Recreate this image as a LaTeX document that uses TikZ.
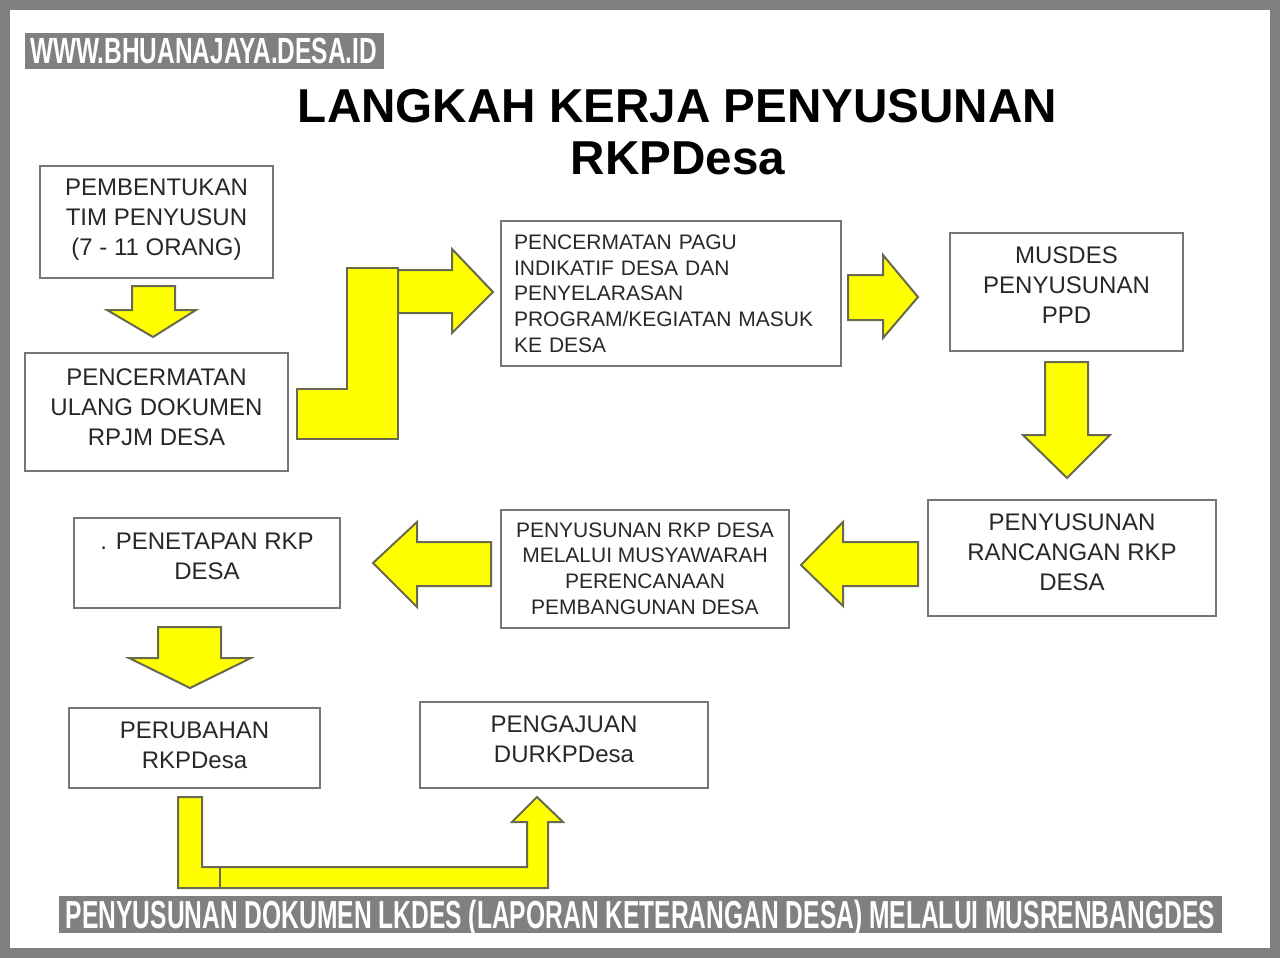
\documentclass[tikz,border=0pt]{standalone}
\usepackage{fontspec}
\setmainfont{Liberation Sans}
\usepackage{graphicx}
\definecolor{framegray}{RGB}{128,128,128}
\definecolor{ylw}{RGB}{255,255,0}
\definecolor{yedge}{RGB}{105,105,80}
\definecolor{bedge}{RGB}{118,118,118}
\definecolor{txt}{RGB}{40,40,40}
\tikzset{
  boxbase/.style={draw=bedge, line width=1pt, fill=white, text=txt, align=center, inner sep=0pt},
  stepbox/.style={boxbase, text depth=5pt, font=\fontsize{12}{15}\selectfont},
  smallbox/.style={boxbase, font=\fontsize{10.5}{12.85}\selectfont},
  blockarrow/.style={fill=ylw, draw=yedge, line width=1pt, line join=miter},
  banner/.style={fill=framegray, inner sep=0pt},
  bannertext/.style={text=white, inner sep=0pt, anchor=base},
}
\begin{document}
\begin{tikzpicture}[x=0.5pt,y=-0.5pt]
\fill[framegray] (0,0) rectangle (1280,958);
\fill[white] (10,10) rectangle (1270,948);
\useasboundingbox (0,0) rectangle (1280,958);

% watermark
\node[banner, minimum width=179.5pt, minimum height=18pt] (wmbox) at (204.5,51) {};
\node[bannertext] (wmtext) at (203.5,63)
  {\scalebox{0.671}[1]{\fontsize{18.2}{18.2}\bfseries\selectfont WWW.BHUANAJAYA.DESA.ID}};

% title
\node[inner sep=0pt, font=\fontsize{23.8}{26}\bfseries\selectfont] (title1) at (677.5,106) {LANGKAH KERJA PENYUSUNAN};
\node[inner sep=0pt, font=\fontsize{23.8}{26}\bfseries\selectfont] (title2) at (678,158) {RKPDesa};

% boxes
\node[stepbox, minimum width=116.5pt, minimum height=56pt] (b1) at (156.5,222)
  {PEMBENTUKAN\\TIM PENYUSUN\\(7 - 11 ORANG)};
\node[stepbox, minimum width=131.5pt, minimum height=59pt] (b2) at (156.5,412)
  {PENCERMATAN\\ULANG DOKUMEN\\RPJM DESA};
\node[smallbox, align=left, text width=157pt, inner xsep=6.5pt, minimum height=72.5pt] (b3) at (671,293.5)
  {PENCERMATAN PAGU\\INDIKATIF DESA DAN\\PENYELARASAN\\PROGRAM/KEGIATAN MASUK\\KE DESA};
\node[stepbox, minimum width=116.5pt, minimum height=59pt, text depth=7pt] (b4) at (1066.5,292)
  {MUSDES\\PENYUSUNAN\\PPD};
\node[stepbox, minimum width=144pt, minimum height=58pt, text depth=6pt] (b5) at (1072,558)
  {PENYUSUNAN\\RANCANGAN RKP\\DESA};
\node[smallbox, minimum width=144pt, minimum height=59pt, text depth=0.5pt] (b6) at (645,569)
  {PENYUSUNAN RKP DESA\\MELALUI MUSYAWARAH\\PERENCANAAN\\PEMBANGUNAN DESA};
\node[stepbox, minimum width=133pt, minimum height=45pt, text depth=7pt] (b7) at (207,563)
  {. PENETAPAN RKP\\DESA};
\node[stepbox, minimum width=125.5pt, minimum height=40pt, text depth=3pt] (b8) at (194.5,748)
  {PERUBAHAN\\RKPDesa};
\node[stepbox, minimum width=144pt, minimum height=43pt, text depth=6pt] (b9) at (564,745)
  {PENGAJUAN\\DURKPDesa};

% block arrows
\draw[blockarrow] (132,286) -- (175,286) -- (175,310) -- (196,310) -- (153,337) -- (107,310) -- (132,310) -- cycle;
\draw[blockarrow] (297,439) -- (297,389) -- (347,389) -- (347,268) -- (398,268) -- (398,439) -- cycle;
\draw[blockarrow] (398,270) -- (452,270) -- (452,249) -- (493,292) -- (452,333) -- (452,313) -- (398,313) -- cycle;
\draw[blockarrow] (848,275) -- (883,275) -- (883,255) -- (918,297) -- (883,338) -- (883,320) -- (848,320) -- cycle;
\draw[blockarrow] (1045,362) -- (1088,362) -- (1088,435) -- (1110,435) -- (1067,478) -- (1023,435) -- (1045,435) -- cycle;
\draw[blockarrow] (918,542) -- (843,542) -- (843,522) -- (801,565) -- (843,606) -- (843,586) -- (918,586) -- cycle;
\draw[blockarrow] (491,542) -- (417,542) -- (417,522) -- (373,563) -- (417,607) -- (417,586) -- (491,586) -- cycle;
\draw[blockarrow] (158,627) -- (221,627) -- (221,658) -- (251,658) -- (190,688) -- (129,658) -- (158,658) -- cycle;
\draw[blockarrow] (178,797) -- (202,797) -- (202,867) -- (527,867) -- (527,822) -- (512,822) -- (537,797)
  -- (563,822) -- (548,822) -- (548,888) -- (178,888) -- cycle;
\draw[draw=yedge, line width=1pt] (220,867) -- (220,888);

% bottom banner
\node[banner, minimum width=581.5pt, minimum height=18.5pt] (bbox) at (640.5,914.5) {};
\node[bannertext] (btext) at (640.5,928)
  {\scalebox{0.629}[1]{\fontsize{19.55}{19.55}\bfseries\selectfont PENYUSUNAN DOKUMEN LKDES (LAPORAN KETERANGAN DESA) MELALUI MUSRENBANGDES}};
\end{tikzpicture}
\end{document}
